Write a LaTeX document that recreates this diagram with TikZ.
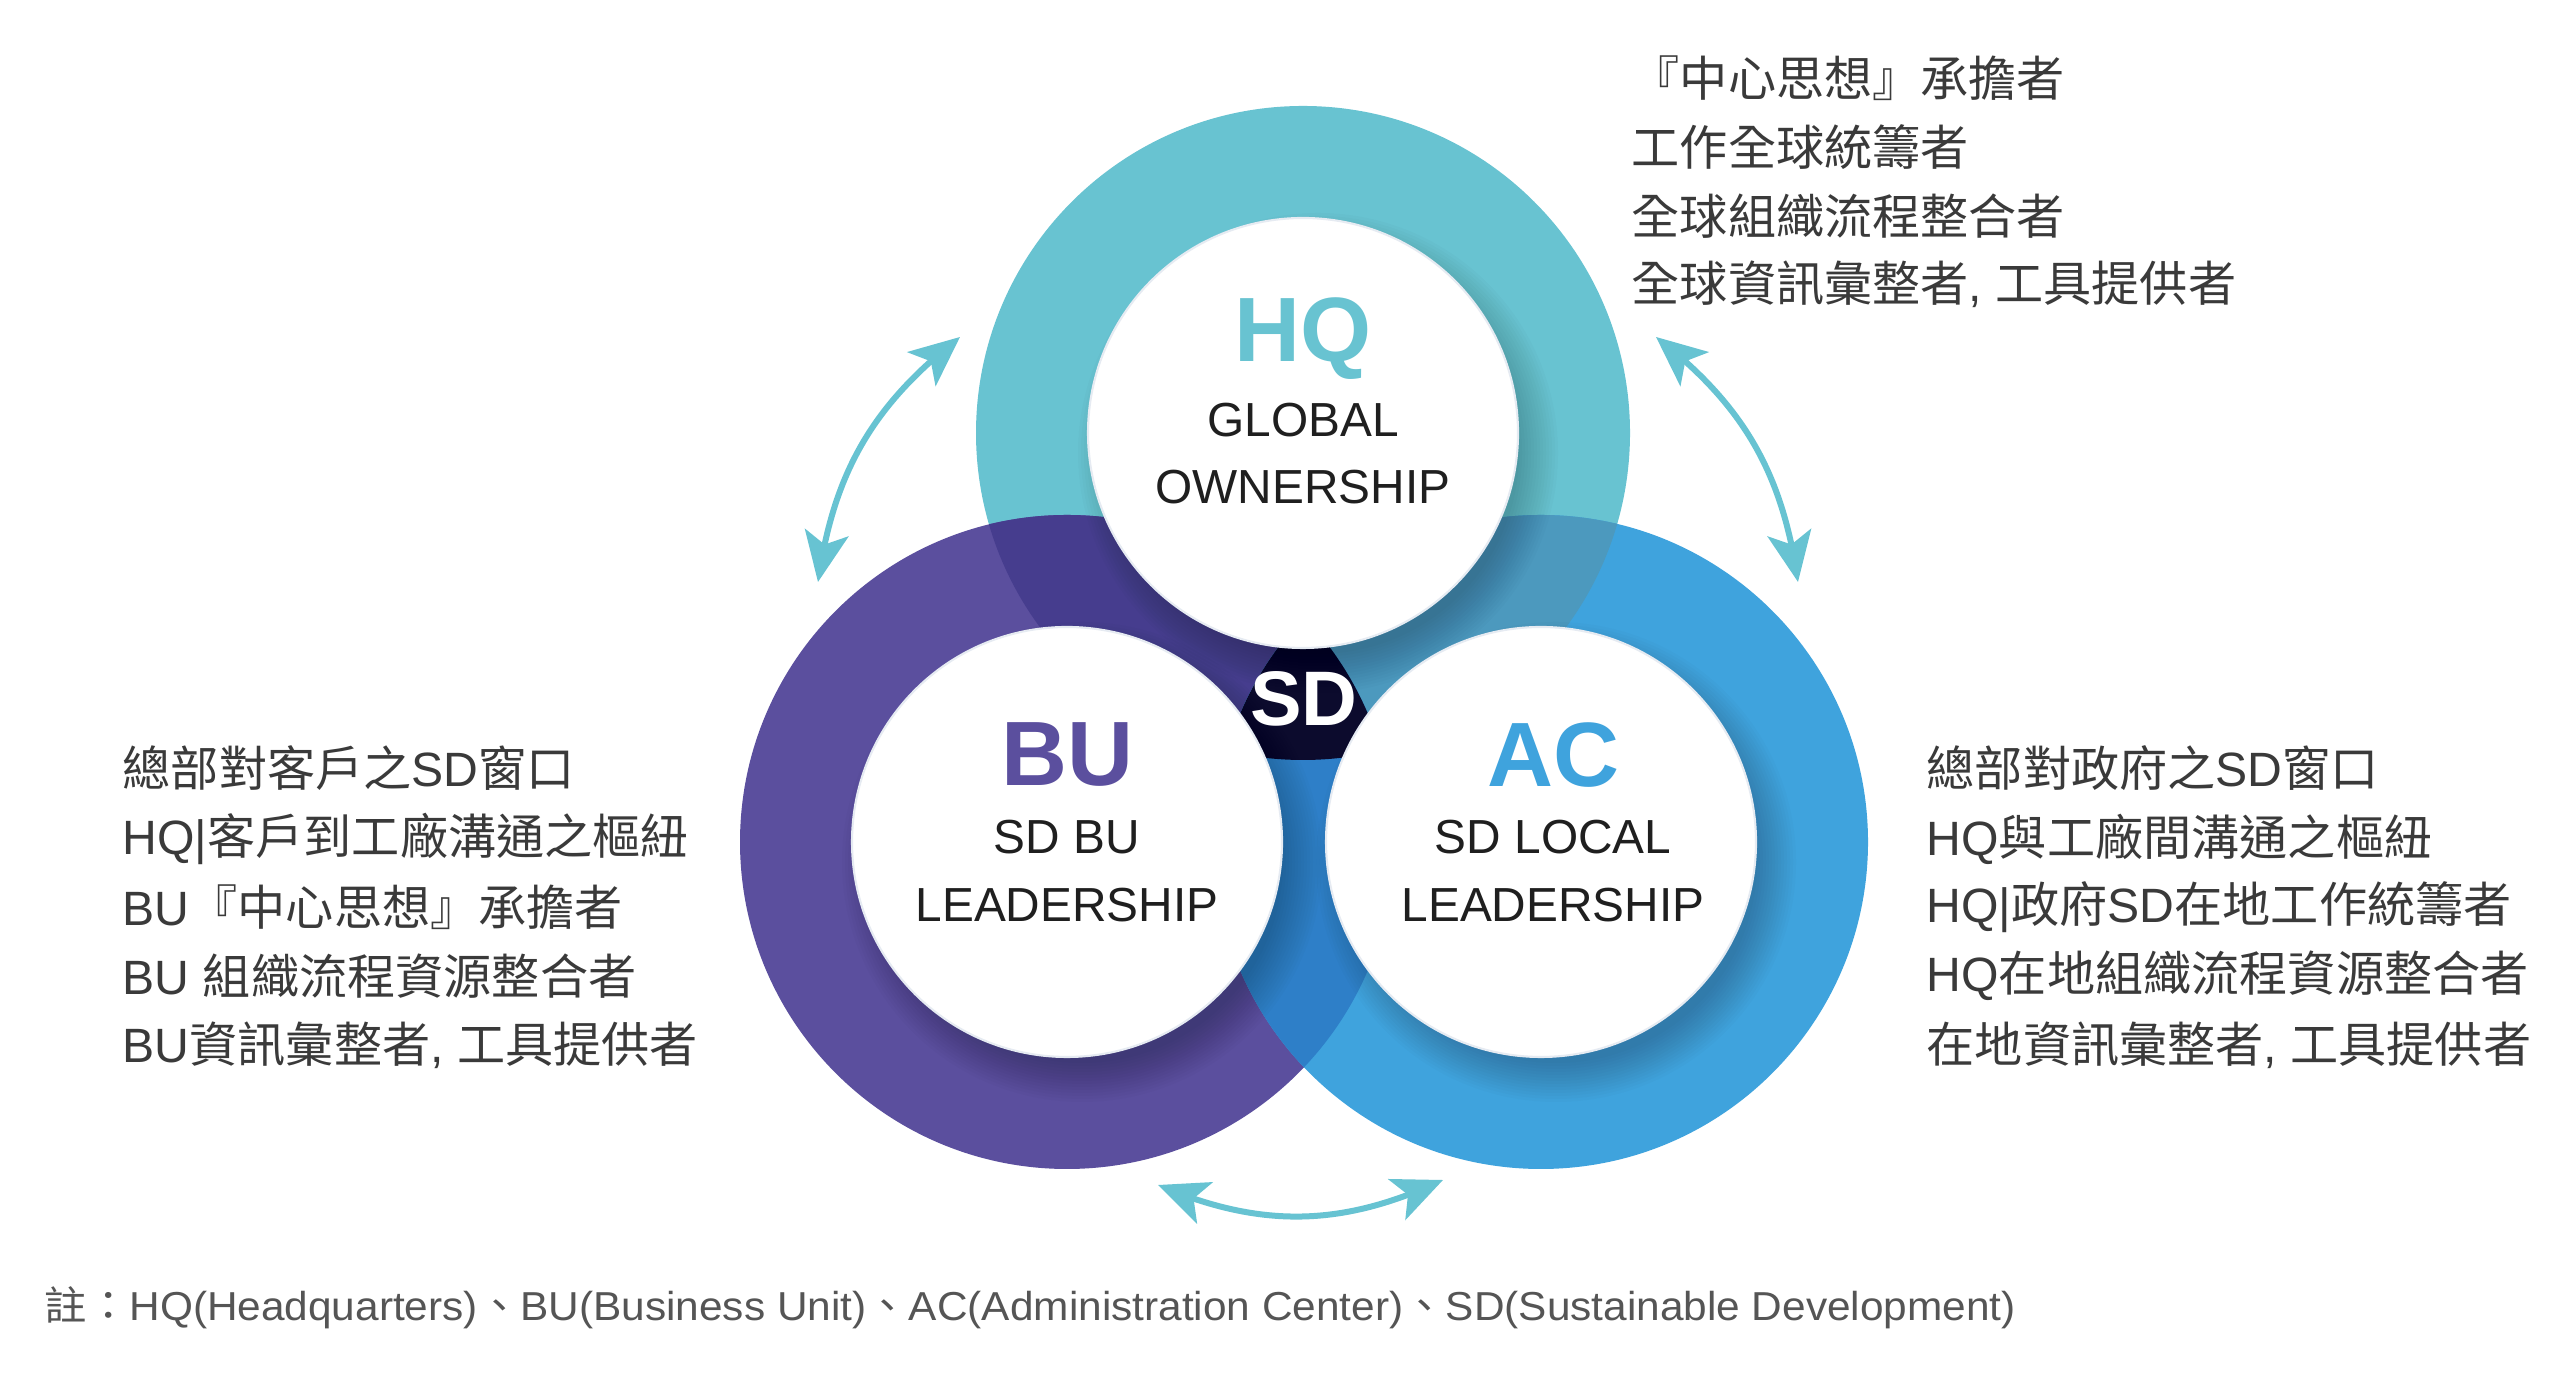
\documentclass[tikz,border=0pt]{standalone}
\usepackage{fontspec}
\usepackage{graphicx}
\setmainfont{Liberation Sans}
\newfontfamily\cjk{Noto Sans CJK TC}
\usetikzlibrary{arrows.meta,bending,calc}
\definecolor{hqc}{HTML}{68C3D1}
\definecolor{buc}{HTML}{5B4F9E}
\definecolor{acc}{HTML}{3FA3DD}
\definecolor{hqbu}{HTML}{463D8E}
\definecolor{hqac}{HTML}{4C99BE}
\definecolor{buac}{HTML}{2E7FC8}
\definecolor{sdc}{HTML}{0C0B2D}
\definecolor{txt}{HTML}{3A3A3A}
\definecolor{notec}{HTML}{555555}
\definecolor{arrc}{HTML}{67C3D2}
\definecolor{rimc}{HTML}{E6EBF2}
\tikzset{
  whitedisc/.style={circle, fill=white, draw=rimc, line width=0.6pt, minimum size=4.30cm, inner sep=0pt},
  titlelbl/.style={font=\bfseries\fontsize{26pt}{30pt}\selectfont, inner sep=0pt},
  sublbl/.style={font=\fontsize{13.6pt}{16pt}\selectfont, text=black!88, inner sep=0pt},
  sdlbl/.style={font=\bfseries\fontsize{22pt}{26pt}\selectfont, text=white, inner sep=0pt},
  desc/.style={font=\fontsize{13.7pt}{19.6pt}\selectfont, text=txt, anchor=west, inner sep=0pt},
  twoarrow/.style={draw=arrc, line width=0.06cm,
    {Stealth[length=0.5cm,width=0.44cm,inset=0.12cm,flex]}-{Stealth[length=0.5cm,width=0.44cm,inset=0.12cm,flex]}},
}
\newcommand{\ringR}{3.27}
\newcommand{\cj}[1]{{\cjk #1}}
\begin{document}
\begin{tikzpicture}
\useasboundingbox[fill=white] (0,0) rectangle (25.67,13.75);
\coordinate (HQ) at (13.03,9.42);
\coordinate (BU) at (10.67,5.33);
\coordinate (AC) at (15.41,5.33);
% rings
\fill[hqc] (HQ) circle[radius=\ringR];
\fill[buc] (BU) circle[radius=\ringR];
\fill[acc] (AC) circle[radius=\ringR];
\begin{scope}
  \clip (HQ) circle[radius=\ringR];
  \fill[hqbu] (BU) circle[radius=\ringR];
  \fill[hqac] (AC) circle[radius=\ringR];
\end{scope}
\begin{scope}
  \clip (BU) circle[radius=\ringR];
  \fill[buac] (AC) circle[radius=\ringR];
\end{scope}
\begin{scope}
  \clip (HQ) circle[radius=\ringR];
  \clip (BU) circle[radius=\ringR];
  \fill[sdc] (AC) circle[radius=\ringR];
\end{scope}
% soft shadows (lower right)
\foreach \c in {HQ,BU,AC}{
  \foreach \k in {1,...,14}{
    \fill[black,opacity=0.014] ($(\c)+(0.15,-0.2)$) circle[radius={1.98+0.03*\k}];
  }
}
% white discs
\node[whitedisc] (hqn) at (HQ) {};
\node[whitedisc] (bun) at (BU) {};
\node[whitedisc] (acn) at (AC) {};
% labels
\node[titlelbl, text=hqc] (hqt) at (13.03,10.36) {HQ};
\node[sublbl] (hq1) at (13.03,9.545) {GLOBAL};
\node[sublbl] (hq2) at (13.03,8.88) {OWNERSHIP};
\node[titlelbl, text=buc] (but) at (10.67,6.20) {BU};
\node[sublbl] (bu1) at (10.67,5.38) {SD BU};
\node[sublbl] (bu2) at (10.67,4.70) {LEADERSHIP};
\node[titlelbl, text=acc] (act) at (15.53,6.20) {AC};
\node[sublbl] (ac1) at (15.53,5.38) {SD LOCAL};
\node[sublbl] (ac2) at (15.53,4.70) {LEADERSHIP};
\node[sdlbl] (sd) at (13.04,6.76) {SD};
% arrows
\coordinate (la1) at (8.18,7.93);
\coordinate (la2) at (9.60,10.38);
\coordinate (ra1) at (17.98,7.93);
\coordinate (ra2) at (16.56,10.38);
\coordinate (ba1) at (11.58,1.90);
\coordinate (ba2) at (14.43,1.95);
\draw[twoarrow] (la1) to[bend left=22] (la2);
\draw[twoarrow] (ra1) to[bend right=22] (ra2);
\draw[twoarrow] (ba1) to[bend right=24] (ba2);
% top-right text
\node[desc] (t1) at (16.31,12.965) {\cj{『中心思想』承擔者}};
\node[desc] (t2) at (16.31,12.28) {\cj{工作全球統籌者}};
\node[desc] (t3) at (16.31,11.59) {\cj{全球組織流程整合者}};
\node[desc] (t4) at (16.31,10.91) {\cj{全球資訊彙整者}, \cj{工具提供者}};
% left text
\node[desc] (l1) at (1.22,6.07) {\cj{總部對客戶之}SD\cj{窗口}};
\node[desc] (l2) at (1.22,5.36) {HQ|\cj{客戶到工廠溝通之樞紐}};
\node[desc] (l3) at (1.22,4.675) {BU\cj{『中心思想』承擔者}};
\node[desc] (l4) at (1.22,3.99) {BU \cj{組織流程資源整合者}};
\node[desc] (l5) at (1.22,3.30) {BU\cj{資訊彙整者}, \cj{工具提供者}};
% right text
\node[desc] (r1) at (19.26,6.07) {\cj{總部對政府之}SD\cj{窗口}};
\node[desc] (r2) at (19.26,5.36) {HQ\cj{與工廠間溝通之樞紐}};
\node[desc] (r3) at (19.26,4.675) {HQ|\cj{政府}SD\cj{在地工作統籌者}};
\node[desc] (r4) at (19.26,3.99) {HQ\cj{在地組織流程資源整合者}};
\node[desc] (r5) at (19.26,3.30) {\cj{在地資訊彙整者}, \cj{工具提供者}};
% note
\node[anchor=west, inner sep=0pt, text=notec, font=\fontsize{11.5pt}{14pt}\selectfont] (note) at (0.44,0.67)
  {\resizebox{19.71cm}{\height}{\cj{註：}HQ(Headquarters)\cj{、}BU(Business Unit)\cj{、}AC(Administration Center)\cj{、}SD(Sustainable Development)}};
\end{tikzpicture}
\end{document}
